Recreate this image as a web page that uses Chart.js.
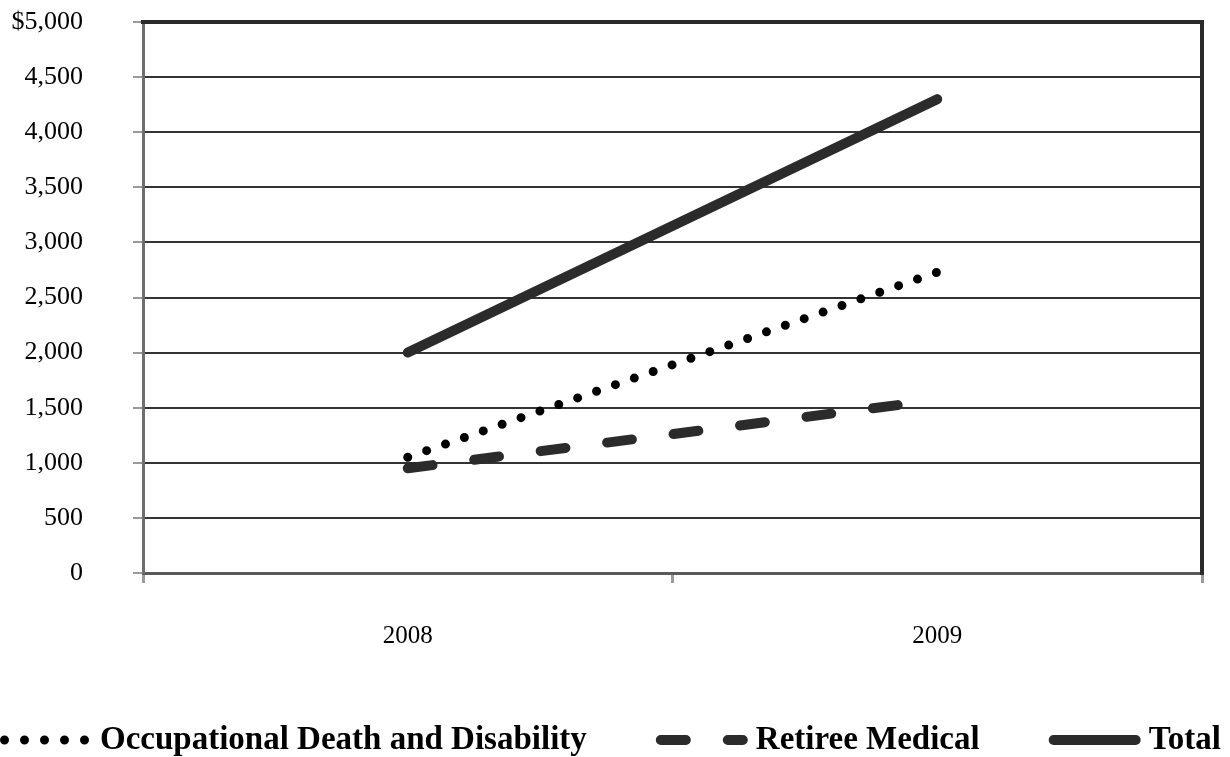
<!DOCTYPE html>
<html>
<head>
<meta charset="utf-8">
<script src="https://cdn.jsdelivr.net/npm/chart.js@4/dist/chart.umd.min.js"></script>
<style>
  html, body { margin: 0; padding: 0; background: #fff; }
  #wrap { width: 1230px; height: 757px; }
</style>
</head>
<body>
<div id="wrap"><canvas id="cost_chart" width="1230" height="757"></canvas></div>
<script>
let years = ['2008', '2009']
let occupational = [1050, 2730]
let retiree_medical = [950, 1570]
let total = [2000, 4300]

let y_min = 0
let y_max = 5000
let y_step = 500

let serif = '"Liberation Serif", "Times New Roman", serif'

// top and right edges of the plot frame
let frame_plugin = {
    id: 'frame',
    afterDraw(chart) {
        let { ctx, chartArea } = chart
        ctx.save()
        ctx.strokeStyle = '#2a2a2a'
        ctx.lineWidth = 4
        ctx.lineCap = 'square'
        ctx.beginPath()
        ctx.moveTo(chartArea.left, chartArea.top)
        ctx.lineTo(chartArea.right, chartArea.top)
        ctx.lineTo(chartArea.right, chartArea.bottom)
        ctx.stroke()
        ctx.restore()
    }
}

// one-row legend along the bottom edge: line sample in the dataset's
// own stroke style, then the label, items separated by a fixed gap
let line_legend = {
    id: 'lineLegend',
    afterDraw(chart, args, opts) {
        let { ctx } = chart
        ctx.save()
        ctx.font = 'bold ' + opts.size + 'px ' + serif
        ctx.textBaseline = 'middle'
        ctx.textAlign = 'left'
        let x = opts.left
        chart.data.datasets.forEach((ds) => {
            let cap = ds.borderWidth / 2
            ctx.strokeStyle = ds.borderColor
            ctx.lineWidth = ds.borderWidth
            ctx.lineCap = ds.borderCapStyle || 'butt'
            ctx.setLineDash(ds.borderDash || [])
            ctx.beginPath()
            ctx.moveTo(x + cap, opts.y)
            ctx.lineTo(x + opts.sample - cap, opts.y)
            ctx.stroke()
            ctx.setLineDash([])
            ctx.fillStyle = '#000'
            let tx = x + opts.sample + opts.textGap
            ctx.fillText(ds.label, tx, opts.y)
            x = tx + ctx.measureText(ds.label).width + opts.gap
        })
        ctx.restore()
    }
}

let ctx = document.querySelector('#cost_chart').getContext('2d')

let cost_chart = new Chart(ctx, {
    type: 'line',
    data: {
        labels: years,
        datasets: [{
            label: 'Occupational Death and Disability',
            data: occupational,
            borderColor: '#000',
            backgroundColor: '#000',
            borderWidth: 9,
            borderDash: [0, 20],
            borderCapStyle: 'round'
        }, {
            label: 'Retiree Medical',
            data: retiree_medical,
            borderColor: '#2b2b2b',
            backgroundColor: '#2b2b2b',
            borderWidth: 10,
            borderDash: [25, 42],
            borderCapStyle: 'round'
        }, {
            label: 'Total',
            data: total,
            borderColor: '#2b2b2b',
            backgroundColor: '#2b2b2b',
            borderWidth: 10,
            borderCapStyle: 'round'
        }]
    },
    options: {
        responsive: false,
        animation: false,
        tension: 0,
        elements: { point: { radius: 0, hoverRadius: 0 } },
        layout: { padding: { left: 0, right: 28, top: 22, bottom: 68 } },
        plugins: {
            tooltip: { enabled: false },
            legend: { display: false },
            lineLegend: { left: 0, y: 740, size: 33, sample: 92, textGap: 8, gap: 69 }
        },
        scales: {
            x: {
                offset: true,
                grid: { offset: true, drawOnChartArea: false, tickLength: 10, tickColor: '#9a9a9a', lineWidth: 3 },
                border: { color: '#5a5a5a', width: 3 },
                ticks: {
                    padding: 38,
                    color: '#000',
                    font: { family: serif, size: 25 }
                }
            },
            y: {
                min: y_min,
                max: y_max,
                // fixed axis width; the wide label gap should not pad the plot vertically
                afterFit(scale) {
                    scale.width = 143
                    scale.paddingTop = 0
                    scale.paddingBottom = 0
                },
                grid: { color: '#333', lineWidth: 2, tickLength: 10, tickColor: '#9a9a9a' },
                border: { color: '#6e6e6e', width: 3 },
                ticks: {
                    stepSize: y_step,
                    autoSkip: false,
                    padding: 50,
                    color: '#000',
                    font: { family: serif, size: 26 },
                    callback: (v) => (v === y_max ? '$' : '') + v.toLocaleString('en-US')
                }
            }
        }
    },
    plugins: [frame_plugin, line_legend]
})
</script>
</body>
</html>
